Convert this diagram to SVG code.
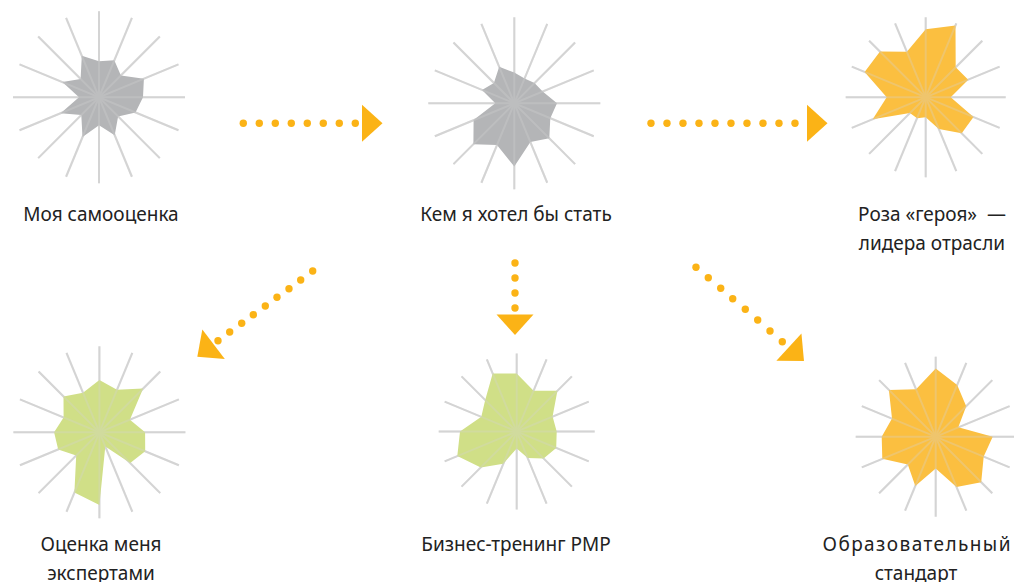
<svg xmlns="http://www.w3.org/2000/svg" xmlns:xlink="http://www.w3.org/1999/xlink" width="1014" height="582" viewBox="0 0 1014 582">
  <style>
    .spokes line { stroke: #d4d4d4; stroke-width: 2; }
    .over { opacity: 0.3; }
    .gray { fill: #b4b5b7; }
    .gold { fill: #fbbf40; }
    .lime { fill: #d0df87; }
    .label { font-family: "Noto Sans", "Open Sans", sans-serif; font-size: 19px; fill: #222; text-anchor: middle; }
    .dot { fill: #fbb316; }
    .head { fill: #fbb316; }
  </style>
  <defs>
    <!-- 16-ray star of spokes, one set per radius -->
    <g id="sp86" class="spokes">
      <line id="l86" x1="0" y1="-86" x2="0" y2="86"/>
      <use xlink:href="#l86" transform="rotate(22.5)"/>
      <use xlink:href="#l86" transform="rotate(45)"/>
      <use xlink:href="#l86" transform="rotate(67.5)"/>
      <use xlink:href="#l86" transform="rotate(90)"/>
      <use xlink:href="#l86" transform="rotate(112.5)"/>
      <use xlink:href="#l86" transform="rotate(135)"/>
      <use xlink:href="#l86" transform="rotate(157.5)"/>
    </g>
    <g id="sp80" class="spokes">
      <line id="l80" x1="0" y1="-80" x2="0" y2="80"/>
      <use xlink:href="#l80" transform="rotate(22.5)"/>
      <use xlink:href="#l80" transform="rotate(45)"/>
      <use xlink:href="#l80" transform="rotate(67.5)"/>
      <use xlink:href="#l80" transform="rotate(90)"/>
      <use xlink:href="#l80" transform="rotate(112.5)"/>
      <use xlink:href="#l80" transform="rotate(135)"/>
      <use xlink:href="#l80" transform="rotate(157.5)"/>
    </g>
    <g id="sp78" class="spokes">
      <line id="l78" x1="0" y1="-78" x2="0" y2="78"/>
      <use xlink:href="#l78" transform="rotate(22.5)"/>
      <use xlink:href="#l78" transform="rotate(45)"/>
      <use xlink:href="#l78" transform="rotate(67.5)"/>
      <use xlink:href="#l78" transform="rotate(90)"/>
      <use xlink:href="#l78" transform="rotate(112.5)"/>
      <use xlink:href="#l78" transform="rotate(135)"/>
      <use xlink:href="#l78" transform="rotate(157.5)"/>
    </g>
    <!-- arrowhead pointing along +x, tip at origin -->
    <polygon id="tip" class="head" points="0,0 -20.5,-18.5 -20.5,18.5"/>
    <circle id="dot" class="dot" r="3.7"/>
  </defs>

  <rect width="1014" height="582" fill="#ffffff"/>

  <!-- Моя самооценка -->
  <g id="self-rating">
    <use xlink:href="#sp86" x="99" y="97.3"/>
    <polygon class="gray" points="99,61.3 114.3,60.3 120.9,75.4 143.9,78.7 143,97.3 135.5,112.4 118.1,116.4 114.7,135.2 99,125.3 82.5,137 81.3,115 60.7,113.2 79,97.3 62.4,82.1 80.6,78.9 81.8,55.7"/>
    <use xlink:href="#sp86" x="99" y="97.3" class="over"/>
    <text class="label" x="101" y="221">Моя самооценка</text>
  </g>

  <!-- Кем я хотел бы стать -->
  <g id="wish">
    <use xlink:href="#sp86" x="514.3" y="103.3"/>
    <polygon class="gray" points="514.3,72.6 524.6,78.4 534.5,83.1 542.7,91.6 557,103.3 550.3,118.2 549.3,138.3 530.4,142.1 514.3,166.6 497,145 473.4,144.2 473.6,120.1 495.3,103.3 482,89.9 493.9,82.9 499.2,66.8"/>
    <use xlink:href="#sp86" x="514.3" y="103.3" class="over"/>
    <text class="label" x="516" y="221">Кем я хотел бы стать</text>
  </g>

  <!-- Роза героя -->
  <g id="hero">
    <use xlink:href="#sp80" x="925.7" y="97.3"/>
    <polygon class="gold" points="925.7,29.3 955.5,25.4 955.7,67.3 968.2,79.7 950.7,97.3 973.5,117.1 961.7,133.3 938.8,128.9 925.7,117.3 917.1,118.2 909.9,113.1 872.7,119.3 886.7,97.3 864.6,72 880,51.6 906.9,51.8"/>
    <use xlink:href="#sp80" x="925.7" y="97.3" class="over"/>
    <text class="label" x="932" y="221">Роза «героя»&#160; —</text>
    <text class="label" x="932" y="250">лидера отрасли</text>
  </g>

  <!-- Оценка меня экспертами -->
  <g id="experts">
    <use xlink:href="#sp86" x="99.4" y="432.3"/>
    <polygon class="lime" points="99.4,380 117,389.8 143.1,388.6 129.9,419.7 145.1,432.3 145.2,451.3 130.2,463.1 105.3,446.5 99.4,505 74.4,492.6 76.2,455.5 58.2,449.4 54.1,432.3 63.6,417.5 63.5,396.4 83,392.8"/>
    <use xlink:href="#sp86" x="99.4" y="432.3" class="over"/>
    <text class="label" x="101" y="551">Оценка меня</text>
    <text class="label" x="101" y="580">экспертами</text>
  </g>

  <!-- Бизнес-тренинг PMP -->
  <g id="training">
    <use xlink:href="#sp78" x="516.7" y="431.5"/>
    <polygon class="lime" points="516.7,373.5 533.6,390.7 557.4,390.8 552.6,416.6 556.7,431.5 556.2,447.9 543.6,458.4 527.7,458.1 516.7,448.5 503.3,463.7 480.8,467.4 457.3,456.1 460,431.5 481.3,416.8 485.2,400 492.7,373.5"/>
    <use xlink:href="#sp78" x="516.7" y="431.5" class="over"/>
    <text class="label" x="516" y="551">Бизнес-тренинг PMP</text>
  </g>

  <!-- Образовательный стандарт -->
  <g id="standard">
    <use xlink:href="#sp80" x="935.7" y="436.7"/>
    <polygon class="gold" points="935.7,368.4 957.2,384.9 966.2,406.2 958.3,427.3 992.7,436.7 983.7,456.6 981.2,482.2 956.5,486.9 935.7,468.4 915.3,485.9 907.8,464.6 882.3,458.8 881.7,436.7 892,418.6 888.9,389.9 916.1,389.3"/>
    <use xlink:href="#sp80" x="935.7" y="436.7" class="over"/>
    <text class="label" x="916.5" y="551" textLength="188" lengthAdjust="spacing">Образовательный</text>
    <text class="label" x="916" y="580">стандарт</text>
  </g>

  <!-- dotted arrows between the roses -->
  <g id="connectors">
    <g id="arrow-self-wish">
      <use xlink:href="#dot" x="243.3" y="123.3"/>
      <use xlink:href="#dot" x="259.3" y="123.3"/>
      <use xlink:href="#dot" x="275.3" y="123.3"/>
      <use xlink:href="#dot" x="291.3" y="123.3"/>
      <use xlink:href="#dot" x="307.3" y="123.3"/>
      <use xlink:href="#dot" x="323.3" y="123.3"/>
      <use xlink:href="#dot" x="339.3" y="123.3"/>
      <use xlink:href="#dot" x="355.3" y="123.3"/>
      <use xlink:href="#tip" transform="translate(382.5,123.3)"/>
    </g>
    <g id="arrow-wish-hero">
      <use xlink:href="#dot" x="651" y="123.3"/>
      <use xlink:href="#dot" x="667" y="123.3"/>
      <use xlink:href="#dot" x="683" y="123.3"/>
      <use xlink:href="#dot" x="699" y="123.3"/>
      <use xlink:href="#dot" x="715" y="123.3"/>
      <use xlink:href="#dot" x="731" y="123.3"/>
      <use xlink:href="#dot" x="747" y="123.3"/>
      <use xlink:href="#dot" x="763" y="123.3"/>
      <use xlink:href="#dot" x="779" y="123.3"/>
      <use xlink:href="#dot" x="795" y="123.3"/>
      <use xlink:href="#tip" transform="translate(827.5,123.3)"/>
    </g>
    <g id="arrow-wish-training">
      <use xlink:href="#dot" x="515" y="263"/>
      <use xlink:href="#dot" x="515" y="278"/>
      <use xlink:href="#dot" x="515" y="293"/>
      <use xlink:href="#dot" x="515" y="308"/>
      <use xlink:href="#tip" transform="translate(515,335) rotate(90)"/>
    </g>
    <g id="arrow-wish-experts">
      <use xlink:href="#dot" x="312.7" y="271"/>
      <use xlink:href="#dot" x="300.7" y="280"/>
      <use xlink:href="#dot" x="289" y="288.7"/>
      <use xlink:href="#dot" x="277" y="297.3"/>
      <use xlink:href="#dot" x="265.3" y="306"/>
      <use xlink:href="#dot" x="253.3" y="314.7"/>
      <use xlink:href="#dot" x="241.7" y="323.3"/>
      <use xlink:href="#dot" x="229.7" y="332"/>
      <use xlink:href="#dot" x="218" y="340.7"/>
      <use xlink:href="#tip" transform="translate(197.3,356.7) rotate(142.6)"/>
    </g>
    <g id="arrow-wish-standard">
      <use xlink:href="#dot" x="696" y="267.3"/>
      <use xlink:href="#dot" x="708.3" y="277.7"/>
      <use xlink:href="#dot" x="720.7" y="288.3"/>
      <use xlink:href="#dot" x="732.7" y="298.7"/>
      <use xlink:href="#dot" x="745.3" y="309.3"/>
      <use xlink:href="#dot" x="757.7" y="320"/>
      <use xlink:href="#dot" x="770" y="331"/>
      <use xlink:href="#dot" x="782.3" y="341.7"/>
      <use xlink:href="#tip" transform="translate(804,361) rotate(42.6)"/>
    </g>
  </g>
</svg>
